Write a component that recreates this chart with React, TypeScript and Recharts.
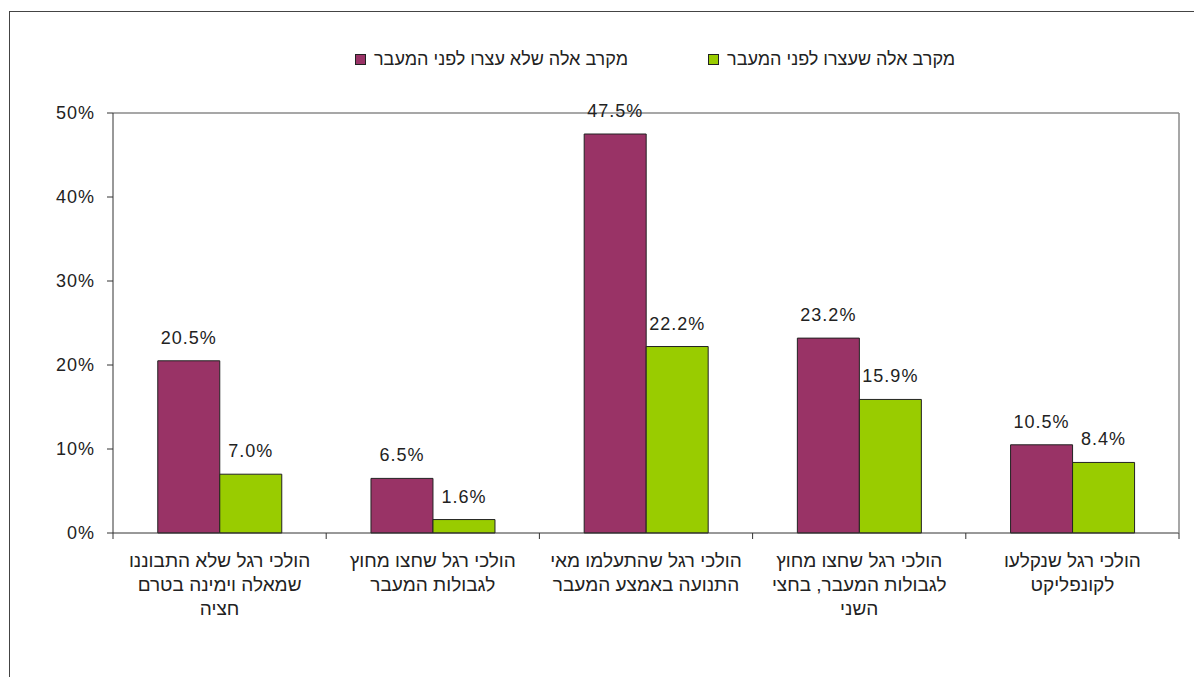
import React from 'react';
import { BarChart, Bar, XAxis, YAxis, LabelList, Legend, ReferenceLine } from 'recharts';

const categories = [
  ['הולכי רגל שלא התבוננו', 'שמאלה וימינה בטרם', 'חציה'],
  ['הולכי רגל שחצו מחוץ', 'לגבולות המעבר'],
  ['הולכי רגל שהתעלמו מאי', 'התנועה באמצע המעבר'],
  ['הולכי רגל שחצו מחוץ', 'לגבולות המעבר, בחצי', 'השני'],
  ['הולכי רגל שנקלעו', 'לקונפליקט'],
];
const notStopped = [20.5, 6.5, 47.5, 23.2, 10.5];
const stopped = [7.0, 1.6, 22.2, 15.9, 8.4];
const seriesNames = ['מקרב אלה שלא עצרו לפני המעבר', 'מקרב אלה שעצרו לפני המעבר'];
const yTicks = [0, 10, 20, 30, 40, 50];

const data = categories.map((lines, i) => ({
  name: lines.join(' '),
  lines,
  notStopped: notStopped[i],
  stopped: stopped[i],
}));

const W = 1184;
const H = 666;
const margin = { top: 71, right: 15, bottom: 45, left: 43 };
const yAxisWidth = 60;
const plotWidth = W - margin.left - margin.right - yAxisWidth;
const halfBand = plotWidth / categories.length / 2;

const font = '"Liberation Sans", Arial, sans-serif';
const colors = ['#993366', '#99cc00'];
const numStyle = { fontSize: 18, fill: '#222', fontFamily: font, letterSpacing: 1 };

const CategoryTick = (props: any) => {
  const { x, y, payload, index } = props;
  const lines: string[] = data[index]?.lines ?? [String(payload.value)];
  const last = index === categories.length - 1;
  return (
    <g>
      <line x1={x - halfBand} y1={y} x2={x - halfBand} y2={y + 6} stroke="#333" />
      {last && <line x1={x + halfBand} y1={y} x2={x + halfBand} y2={y + 6} stroke="#333" />}
      {/* right edge of the plot frame */}
      {last && <line x1={x + halfBand} y1={y} x2={x + halfBand} y2={margin.top + 30} stroke="#8a8a8a" strokeWidth={1.5} />}
      <text x={x} y={y} textAnchor="middle" direction="rtl" fontSize={19} fill="#222" fontFamily={font}>
        {lines.map((l, i) => (
          <tspan key={i} x={x} dy={i === 0 ? 34 : 24}>
            {l}
          </tspan>
        ))}
      </text>
    </g>
  );
};

const LegendContent = () => (
  <div style={{ display: 'flex', height: 30, alignItems: 'center', fontFamily: font, fontSize: 18, color: '#222' }}>
    {seriesNames.map((n, i) => (
      <div key={n} style={{ display: 'flex', alignItems: 'center', marginRight: 80 }}>
        <span
          style={{ width: 9, height: 9, background: colors[i], border: '1px solid #222', marginRight: 8 }}
        />
        <span>{n}</span>
      </div>
    ))}
  </div>
);

export default function App() {
  return (
    <div
      style={{
        position: 'absolute',
        left: 9,
        top: 11,
        width: 1200,
        height: 700,
        border: '1px solid #444',
        background: '#fff',
      }}
    >
      <style>{'body{overflow:hidden}'}</style>
      <BarChart width={W} height={H} data={data} margin={margin} barCategoryGap="21%" barGap={0}>
        <Legend
          verticalAlign="top"
          content={<LegendContent />}
          wrapperStyle={{ top: 32, left: 345, width: 700 }}
        />
        <XAxis
          dataKey="name"
          interval={0}
          height={100}
          tickLine={false}
          axisLine={{ stroke: '#333' }}
          tick={<CategoryTick />}
          tickMargin={0}
          tickSize={0}
        />
        <YAxis
          domain={[0, 50]}
          ticks={yTicks}
          width={yAxisWidth}
          tickFormatter={(v) => `${v}%`}
          tickSize={6}
          tickMargin={12}
          axisLine={{ stroke: '#333' }}
          tickLine={{ stroke: '#333' }}
          tick={numStyle}
        />
        <ReferenceLine y={50} stroke="#8a8a8a" strokeWidth={1.5} />
        <Bar dataKey="notStopped" name={seriesNames[0]} fill={colors[0]} stroke="#222" strokeWidth={1} isAnimationActive={false}>
          <LabelList
            dataKey="notStopped"
            position="top"
            offset={17}
            formatter={(v: any) => `${Number(v).toFixed(1)}%`}
            style={numStyle}
          />
        </Bar>
        <Bar dataKey="stopped" name={seriesNames[1]} fill={colors[1]} stroke="#222" strokeWidth={1} isAnimationActive={false}>
          <LabelList
            dataKey="stopped"
            position="top"
            offset={17}
            formatter={(v: any) => `${Number(v).toFixed(1)}%`}
            style={numStyle}
          />
        </Bar>
      </BarChart>
    </div>
  );
}
